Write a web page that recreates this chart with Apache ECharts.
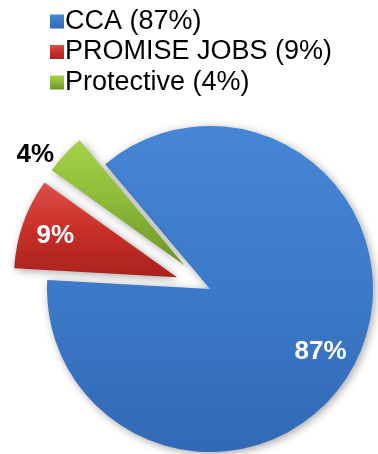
<!DOCTYPE html>
<html><head><meta charset="utf-8">
<script src="https://cdn.jsdelivr.net/npm/echarts@6/dist/echarts.min.js"></script>
<style>html,body{margin:0;padding:0;background:#fff}#c{width:378px;height:454px}</style>
</head><body><div id="c"></div>
<script>
const categories = ['CCA', 'PROMISE JOBS', 'Protective'];
const values = [87, 9, 4];
const exploded = [false, true, true];

const fills = [
  ['#4686d4', '#3c7ac9', '#3169b5'],
  ['#dc5046', '#c92f29', '#a8221d'],
  ['#a6d24a', '#8cba38', '#6c9526']
];
const labelColors = ['#ffffff', '#ffffff', '#000000'];
const labelShift = [[35, 24.5], [-42, -13], [-87, -53]];

function grad(c) {
  return new echarts.graphic.LinearGradient(0, 0, 0, 1, [
    { offset: 0, color: c[0] }, { offset: 0.5, color: c[1] }, { offset: 1, color: c[2] }
  ]);
}

const chart = echarts.init(document.getElementById('c'), null, { renderer: 'canvas' });
const total = values.reduce((a, b) => a + b, 0);
chart.setOption({
  animation: false,
  legend: {
    orient: 'vertical',
    left: 45,
    top: 3,
    itemWidth: 14,
    itemHeight: 14,
    itemGap: 3.5,
    icon: 'rect',
    selectedMode: false,
    textStyle: { fontFamily: 'Liberation Sans, Arial, sans-serif', fontSize: 27, color: '#000', lineHeight: 27, padding: [0, 0, 0, -4] },
    formatter: function (name) {
      const i = categories.indexOf(name);
      return name + ' (' + Math.round(values[i] / total * 100) + '%)';
    },
    data: categories
  },
  series: [{
    type: 'pie',
    center: [210, 289],
    radius: 163,
    startAngle: 130,
    clockwise: true,
    selectedMode: 'multiple',
    selectedOffset: 35,
    avoidLabelOverlap: false,
    emphasis: { disabled: true },
    itemStyle: {
      borderWidth: 0,
      shadowBlur: 8,
      shadowColor: 'rgba(0,0,0,0.35)',
      shadowOffsetX: 2,
      shadowOffsetY: 2
    },
    labelLine: { show: false },
    labelLayout: function (p) {
      const s = labelShift[p.dataIndex];
      return { dx: s[0], dy: s[1] };
    },
    data: categories.map((n, i) => ({
      name: n,
      value: values[i],
      selected: exploded[i],
      itemStyle: { color: grad(fills[i]) },
      label: {
        show: true,
        position: 'inside',
        formatter: Math.round(values[i] / total * 100) + '%',
        color: labelColors[i],
        fontFamily: 'Liberation Sans, Arial, sans-serif',
        fontWeight: 'bold',
        fontSize: 26
      }
    }))
  }]
});
</script>
</body></html>
